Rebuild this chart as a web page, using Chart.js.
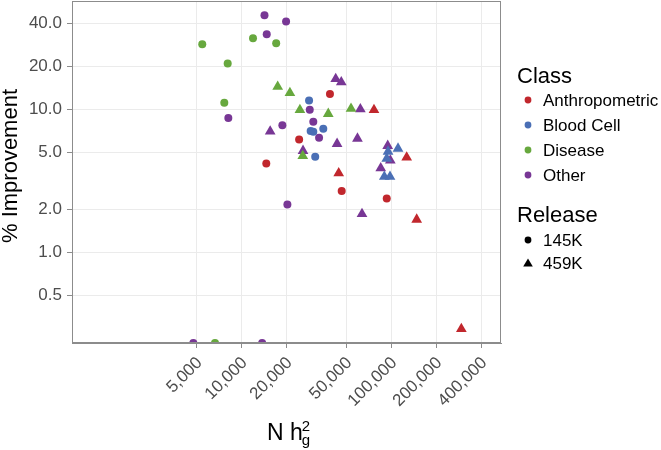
<!DOCTYPE html>
<html>
<head>
<meta charset="utf-8">
<script src="https://cdn.jsdelivr.net/npm/chart.js@4"></script>
<style>
  html, body { margin: 0; padding: 0; background: #fff; }
  #wrap { position: relative; width: 661px; height: 450px; }
</style>
</head>
<body>
<div id="wrap"><canvas id="chart" width="661" height="450"></canvas></div>
<script>
const classNames = ['Anthropometric', 'Blood Cell', 'Disease', 'Other'];
const classColors = ['#c1272d', '#4a6fb5', '#67a83e', '#783795'];
const releaseNames = ['145K', '459K'];

// x = N h_g^2, y = % improvement
const anthroX145 = [38900, 24200, 14600, 46600, 93200];
const anthroY145 = [12.8, 6.14, 4.17, 2.68, 2.37];
const anthroX459 = [76600, 44500, 126700, 147800, 293800];
const anthroY459 = [9.9, 3.57, 4.6, 1.69, 0.29];

const bloodX145 = [28200, 28900, 30100, 35100, 31000];
const bloodY145 = [11.5, 7.05, 6.97, 7.31, 4.66];
const bloodX459 = [95100, 110900, 93200, 89800, 98000];
const bloodY459 = [5.06, 5.31, 4.52, 3.37, 3.37];

const diseaseX145 = [5450, 8060, 7650, 11900, 17000, 6630];
const diseaseY145 = [28.5, 20.9, 11.1, 31.4, 29.0, 0.231];
const diseaseX459 = [17400, 21000, 24500, 37900, 53800, 25600];
const diseaseY459 = [14.4, 13.0, 9.9, 9.3, 10.1, 4.72];

const otherX145 = [8140, 14200, 19800, 14700, 28500, 18700, 30100, 32900, 20200, 4750, 13700];
const otherY145 = [8.69, 45.5, 41.1, 33.5, 9.94, 7.73, 8.19, 6.33, 2.15, 0.231, 0.231];
const otherX459 = [42500, 46300, 62100, 15500, 43400, 59400, 25700, 94600, 98500, 85000, 63700];
const otherY459 = [16.3, 15.5, 10.0, 7.0, 5.73, 6.24, 5.12, 5.55, 4.38, 3.87, 1.85];

const xTicks = [5000, 10000, 20000, 50000, 100000, 200000, 400000];
const yTicks = [0.5, 1, 2, 5, 10, 20, 40];

const FONT = '"Liberation Sans", Arial, sans-serif';
const FRAME = '#8c8c8c';
const GRID = '#ebebeb';

function pairs(xs, ys) {
    return xs.map(function (x, i) { return { x: x, y: ys[i] }; });
}

function withCommas(v) {
    return String(Math.round(v)).replace(/\B(?=(\d{3})+(?!\d))/g, ',');
}

const groups = [
    [anthroX145, anthroY145, anthroX459, anthroY459],
    [bloodX145, bloodY145, bloodX459, bloodY459],
    [diseaseX145, diseaseY145, diseaseX459, diseaseY459],
    [otherX145, otherY145, otherX459, otherY459]
];

const datasets = [];
groups.forEach(function (g, i) {
    datasets.push({
        label: classNames[i] + ' ' + releaseNames[0],
        data: pairs(g[0], g[1]),
        pointStyle: 'circle',
        pointRadius: 4,
        backgroundColor: classColors[i],
        borderWidth: 0,
        clip: 0
    });
    datasets.push({
        label: classNames[i] + ' ' + releaseNames[1],
        data: pairs(g[2], g[3]),
        pointStyle: 'triangle',
        pointRadius: 6.2,
        backgroundColor: classColors[i],
        borderWidth: 0,
        clip: 0
    });
});

// panel frame, axis titles and the two-part legend
const decorations = {
    id: 'decorations',
    afterDatasetsDraw: function (chart) {
        const ctx = chart.ctx;
        const a = chart.chartArea;
        ctx.save();
        ctx.strokeStyle = FRAME;
        ctx.lineWidth = 1;
        ctx.strokeRect(Math.round(a.left) + 0.5, Math.round(a.top) + 0.5,
            Math.round(a.right - a.left) - 1, Math.round(a.bottom - a.top) - 1);
        ctx.restore();
    },
    afterDraw: function (chart) {
        const ctx = chart.ctx;
        ctx.save();
        ctx.fillStyle = '#000';

        // y title
        ctx.save();
        ctx.translate(11, 166);
        ctx.rotate(-Math.PI / 2);
        ctx.font = '22px ' + FONT;
        ctx.textAlign = 'center';
        ctx.textBaseline = 'middle';
        ctx.fillText('% Improvement', 0, 0);
        ctx.restore();

        // x title: N h_g^2
        ctx.textAlign = 'left';
        ctx.textBaseline = 'alphabetic';
        ctx.font = '23px ' + FONT;
        ctx.fillText('N h', 267, 440);
        const w = ctx.measureText('N h').width;
        ctx.font = '15px ' + FONT;
        ctx.fillText('2', 266 + w, 431);
        ctx.fillText('g', 266 + w, 445);

        // legend
        ctx.font = '22px ' + FONT;
        ctx.fillText('Class', 517, 83);
        ctx.font = '17px ' + FONT;
        ctx.textBaseline = 'middle';
        classNames.forEach(function (name, i) {
            const y = 100 + i * 25;
            ctx.fillStyle = classColors[i];
            ctx.beginPath();
            ctx.arc(528, y, 3.4, 0, Math.PI * 2);
            ctx.fill();
            ctx.fillStyle = '#000';
            ctx.fillText(name, 543, y + 1);
        });

        ctx.textBaseline = 'alphabetic';
        ctx.font = '22px ' + FONT;
        ctx.fillText('Release', 517, 222);
        ctx.font = '17px ' + FONT;
        ctx.textBaseline = 'middle';
        ctx.beginPath();
        ctx.arc(528, 240, 3.4, 0, Math.PI * 2);
        ctx.fill();
        ctx.fillText(releaseNames[0], 543, 241);
        ctx.beginPath();
        ctx.moveTo(528, 258.5);
        ctx.lineTo(532.8, 266.5);
        ctx.lineTo(523.2, 266.5);
        ctx.closePath();
        ctx.fill();
        ctx.fillText(releaseNames[1], 543, 264);
        ctx.restore();
    }
};

function noPad(scale) {
    scale.paddingTop = 0;
    scale.paddingBottom = 0;
    scale.paddingLeft = 0;
    scale.paddingRight = 0;
}

new Chart(document.getElementById('chart'), {
    type: 'scatter',
    data: { datasets: datasets },
    plugins: [decorations],
    options: {
        responsive: false,
        animation: false,
        layout: { autoPadding: false, padding: { top: 1, right: 160, left: 0, bottom: 0 } },
        plugins: {
            legend: { display: false },
            tooltip: { enabled: false }
        },
        scales: {
            x: {
                type: 'logarithmic',
                min: 734,
                max: 541000,
                afterBuildTicks: function (scale) {
                    scale.ticks = xTicks.map(function (v) { return { value: v }; });
                },
                afterFit: function (scale) { scale.height = 107; noPad(scale); },
                grid: { color: GRID, tickColor: FRAME, tickLength: 5 },
                border: { display: true, color: FRAME },
                ticks: {
                    autoSkip: false,
                    minRotation: 45,
                    maxRotation: 45,
                    padding: 5,
                    labelOffset: 3,
                    color: '#4d4d4d',
                    font: { family: FONT, size: 17 },
                    callback: function (v) { return withCommas(v); }
                }
            },
            y: {
                type: 'logarithmic',
                min: 0.2309,
                max: 57.3,
                afterBuildTicks: function (scale) {
                    scale.ticks = yTicks.map(function (v) { return { value: v }; });
                },
                afterFit: function (scale) { scale.width = 72; noPad(scale); },
                grid: { color: GRID, tickColor: FRAME, tickLength: 5 },
                border: { display: true, color: FRAME },
                ticks: {
                    autoSkip: false,
                    padding: 5,
                    color: '#4d4d4d',
                    font: { family: FONT, size: 17 },
                    callback: function (v) { return Number(v).toFixed(1); }
                }
            }
        }
    }
});
</script>
</body>
</html>
